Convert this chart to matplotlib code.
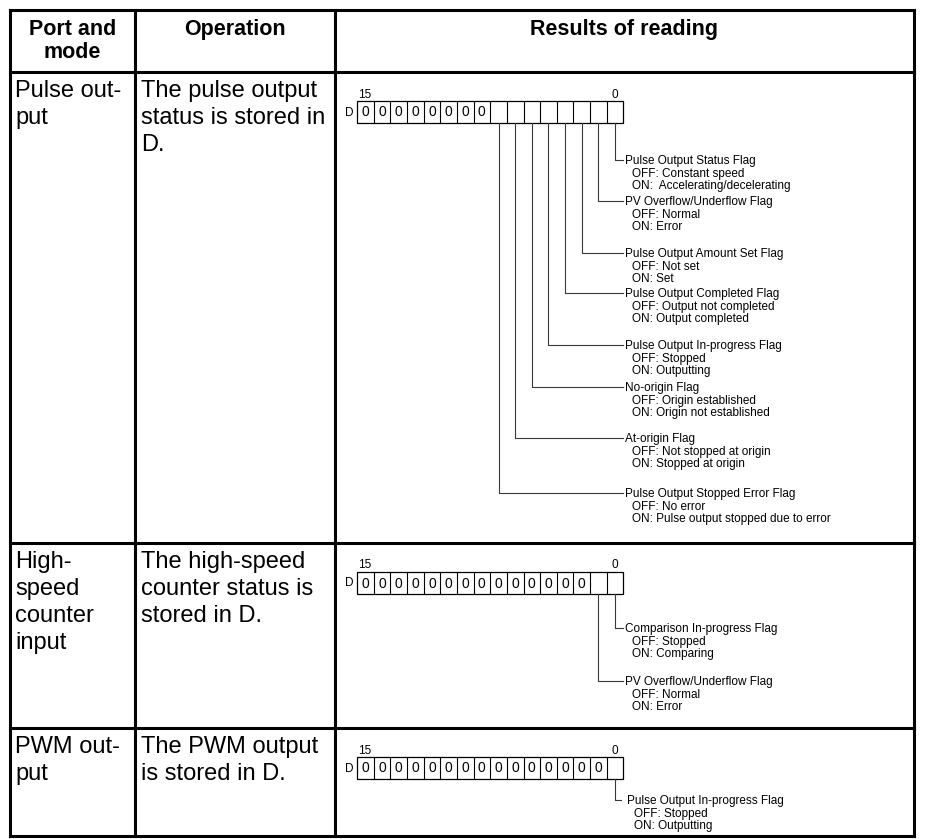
import matplotlib
matplotlib.use("Agg")
import matplotlib.pyplot as plt
from matplotlib.patches import Rectangle

plt.rcParams['font.family'] = ['Liberation Sans', 'DejaVu Sans']

# ---------------- data ----------------
headers = ["Port and\nmode", "Operation", "Results of reading"]
port_modes = ["Pulse out-\nput", "High-\nspeed\ncounter\ninput", "PWM out-\nput"]
operations = ["The pulse output\nstatus is stored in\nD.",
              "The high-speed\ncounter status is\nstored in D.",
              "The PWM output\nis stored in D."]
msb_label, lsb_label = "15", "0"
word_bits = 16
reserved_zero_bits = [8, 14, 15]          # upper bits always 0
flag_names = [
    ["Pulse Output Status Flag", "PV Overflow/Underflow Flag",
     "Pulse Output Amount Set Flag", "Pulse Output Completed Flag",
     "Pulse Output In-progress Flag", "No-origin Flag", "At-origin Flag",
     "Pulse Output Stopped Error Flag"],
    ["Comparison In-progress Flag", "PV Overflow/Underflow Flag"],
    ["Pulse Output In-progress Flag"],
]
flag_off = [
    ["OFF: Constant speed", "OFF: Normal", "OFF: Not set",
     "OFF: Output not completed", "OFF: Stopped", "OFF: Origin established",
     "OFF: Not stopped at origin", "OFF: No error"],
    ["OFF: Stopped", "OFF: Normal"],
    ["OFF: Stopped"],
]
flag_on = [
    ["ON:  Accelerating/decelerating", "ON: Error", "ON: Set",
     "ON: Output completed", "ON: Outputting", "ON: Origin not established",
     "ON: Stopped at origin", "ON: Pulse output stopped due to error"],
    ["ON: Comparing", "ON: Error"],
    ["ON: Outputting"],
]

# ---------------- layout (positions) ----------------
W, H = 925, 839
col_x = [10, 135, 335, 914]
row_y = [10, 72, 543, 728, 836]
leader_y = [[160, 201, 253, 293, 345, 387, 438, 493], [628, 681], [800]]
reg_left, cell_w, cell_h = 357, 16.65, 22

fig = plt.figure(figsize=(W / 100, H / 100), dpi=100)
ax = fig.add_axes([0, 0, 1, 1])
ax.set_xlim(0, W)
ax.set_ylim(H, 0)
ax.axis('off')

thick = 2.2
for x in col_x:
    ax.plot([x, x], [row_y[0], row_y[-1]], color='black', lw=thick,
            solid_capstyle='projecting')
for y in row_y:
    ax.plot([col_x[0], col_x[-1]], [y, y], color='black', lw=thick,
            solid_capstyle='projecting')

# header
for c, h in enumerate(headers):
    cx = (col_x[c] + col_x[c + 1]) / 2
    for i, line in enumerate(h.split("\n")):
        ax.text(cx, 35 + i * 23, line, ha='center', va='baseline',
                fontsize=15.5, fontweight='bold')

# body text
for r in range(3):
    top = row_y[r + 1]
    for i, line in enumerate(port_modes[r].split("\n")):
        ax.text(15, top + 25 + i * 27, line, ha='left', va='baseline', fontsize=17)
    for i, line in enumerate(operations[r].split("\n")):
        ax.text(141, top + 25 + i * 27, line, ha='left', va='baseline', fontsize=17)

# register diagrams
text_x = 625
for r in range(3):
    top = row_y[r + 1]
    bt = top + 28.5
    bb = bt + cell_h
    ax.add_patch(Rectangle((reg_left, bt), word_bits * cell_w, cell_h,
                           fill=False, ec='black', lw=0.9))
    for i in range(1, word_bits):
        x = reg_left + i * cell_w
        ax.plot([x, x], [bt, bb], color='black', lw=0.8)
    for i in range(reserved_zero_bits[r]):
        ax.text(reg_left + (i + 0.5) * cell_w, bt + cell_h / 2 + 5, "0",
                ha='center', va='baseline', fontsize=10)
    ax.text(reg_left + 1, bt - 3, msb_label, ha='left', va='baseline', fontsize=8.5)
    ax.text(reg_left + (word_bits - 0.5) * cell_w, bt - 3, lsb_label,
            ha='center', va='baseline', fontsize=8.5)
    ax.text(reg_left - 4, bt + cell_h / 2 + 4, "D", ha='right', va='baseline',
            fontsize=8.5)
    for bit, name in enumerate(flag_names[r]):
        cx = reg_left + (word_bits - 1 - bit + 0.5) * cell_w
        y = leader_y[r][bit]
        x_end = 621 if r == 2 else 623
        tx = 627 if r == 2 else text_x
        ax.plot([cx, cx, x_end], [bb, y, y], color='#3a3a3a', lw=0.8)
        ax.text(tx, y + 4.3, name, ha='left', va='baseline', fontsize=8.5)
        ax.text(tx + 7, y + 4.3 + 12.5, flag_off[r][bit], ha='left',
                va='baseline', fontsize=8.5)
        ax.text(tx + 7, y + 4.3 + 25, flag_on[r][bit], ha='left',
                va='baseline', fontsize=8.5)

fig.savefig("out.png", dpi=100, facecolor='white')
